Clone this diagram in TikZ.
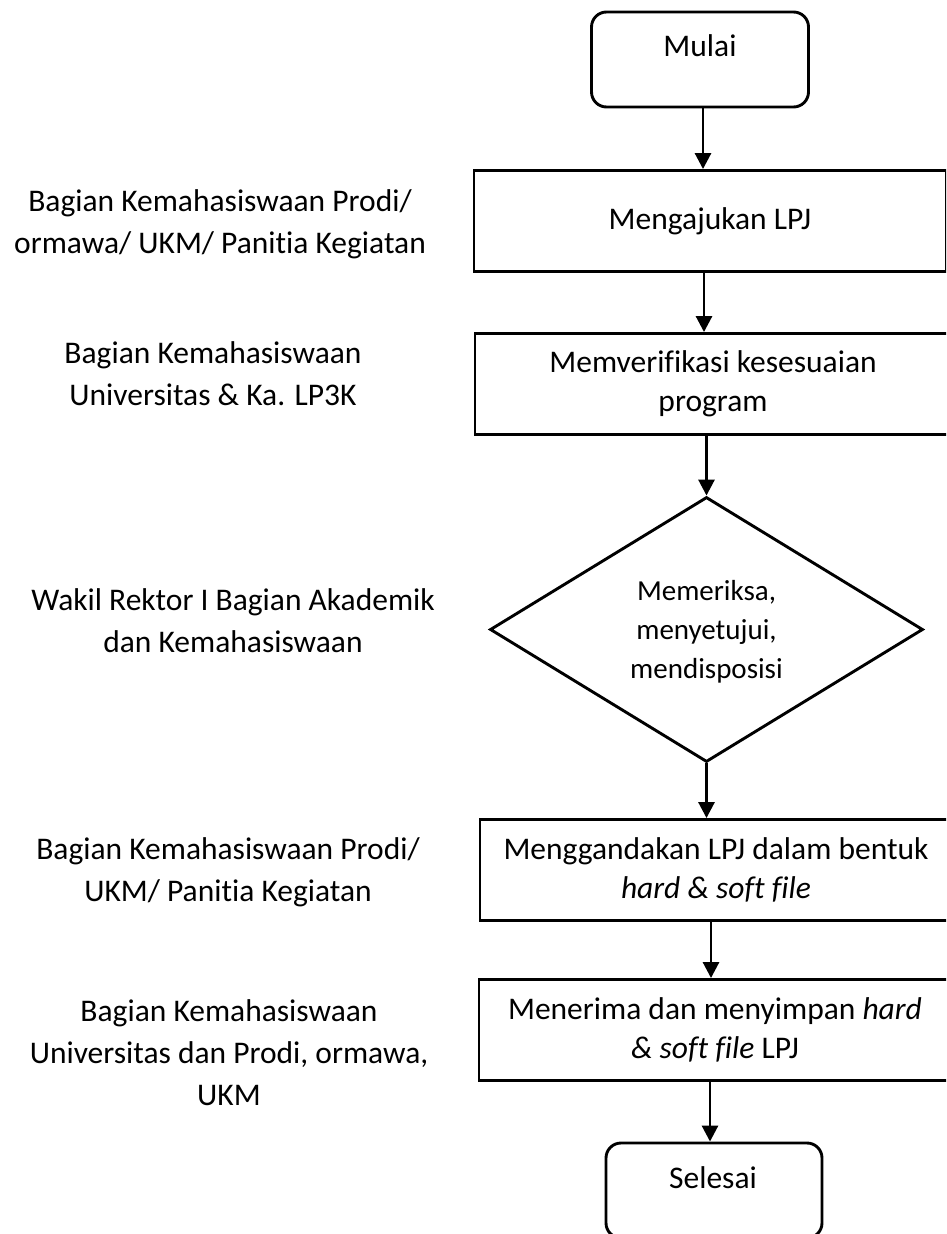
\documentclass[tikz,border=0pt]{standalone}
\usepackage{fontspec}
\setmainfont{Carlito}[Ligatures=NoCommon]
\usetikzlibrary{arrows.meta,shapes.geometric}

\tikzset{
  every picture/.style={x=1pt,y=-1pt},
  proc/.style={draw, line width=2.9pt, rectangle, inner sep=0pt,
    minimum width=472pt, minimum height=101pt, align=center,
    font=\fontsize{31.5}{39}\selectfont},
  terminal/.style={draw, line width=2.9pt, rectangle, rounded corners=15pt,
    minimum width=217pt, minimum height=95pt, inner sep=0pt},
  decision/.style={draw, line width=2.9pt, diamond, aspect=1.63, inner sep=0pt,
    minimum width=433pt, minimum height=265pt, align=center,
    font=\fontsize{29}{39}\selectfont},
  lane/.style={align=center, font=\fontsize{31.5}{42}\selectfont},
  word/.style={font=\fontsize{31.5}{39}\selectfont},
  flow/.style={line width=2.9pt, -{Triangle[width=16pt,length=16pt]}}
}

\begin{document}
\begin{tikzpicture}
\useasboundingbox (0,0) rectangle (946,1234);
\fill[white] (0,0) rectangle (946,1234);
\clip (0,0) rectangle (946,1234);

% start / end terminals
\node[terminal] (mulai) at (700,59.5) {};
\node[word] (tmulai) at (700,46) {Mulai};

% process steps
\node[proc] (ajukan) at (710,221) {Mengajukan LPJ};
\node[proc, minimum width=476pt] (verif) at (713,384)
  {Memverifikasi kesesuaian\\program};
\node[decision] (periksa) at (706.5,629.5) {};
\node[align=center, font=\fontsize{29}{39}\selectfont] (tperiksa) at (706.5,632)
  {Memeriksa,\\menyetujui,\\mendisposisi};
\node[proc, minimum width=472pt] (ganda) at (716,870)
  {Menggandakan LPJ dalam bentuk\\\textit{hard \& soft file}};
\node[proc, minimum width=472pt] (simpan) at (715,1030)
  {Menerima dan menyimpan \textit{hard}\\\textit{\& soft file} LPJ};

\node[terminal, minimum width=216pt] (selesai) at (714,1190.5) {};
\node[word] (tselesai) at (713,1178) {Selesai};

% responsible units
\node[lane] (u1) at (220,224) {Bagian Kemahasiswaan Prodi/\\ormawa/ UKM/ Panitia Kegiatan};
\node[lane] (u2) at (213,374) {Bagian Kemahasiswaan\\Universitas \& Ka. LP3K};
\node[lane] (u3) at (233,621) {Wakil Rektor I Bagian Akademik\\dan Kemahasiswaan};
\node[lane] (u4) at (228,872) {Bagian Kemahasiswaan Prodi/\\UKM/ Panitia Kegiatan};
\node[lane] (u5) at (229,1053) {Bagian Kemahasiswaan\\Universitas dan Prodi, ormawa,\\UKM};

% connectors
\coordinate (a1) at ([xshift=3pt]mulai.south);
\draw[flow] (a1) -- (a1 |- ajukan.north);
\coordinate (a2) at ([xshift=-6pt]ajukan.south);
\draw[flow] (a2) -- (a2 |- verif.north);
\draw[flow] (periksa.north |- verif.south) -- (periksa.north);
\draw[flow] (periksa.south) -- (periksa.south |- ganda.north);
\coordinate (a5) at ([xshift=-5pt]ganda.south);
\draw[flow] (a5) -- (a5 |- simpan.north);
\coordinate (a6) at ([xshift=-4pt]selesai.north);
\draw[flow] (a6 |- simpan.south) -- (a6);
\end{tikzpicture}
\end{document}
